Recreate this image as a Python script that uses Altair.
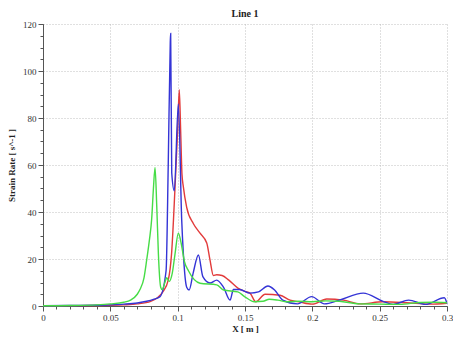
import altair as alt
import pandas as pd

red_x = [0, 0.02, 0.04, 0.05, 0.06, 0.07, 0.08, 0.085, 0.089, 0.093, 0.0955, 0.098, 0.1, 0.1012, 0.1022, 0.1032,
         0.1042, 0.1067, 0.1117, 0.1166, 0.1216, 0.124, 0.1265, 0.129, 0.133, 0.138, 0.145, 0.15, 0.1537, 0.158,
         0.1649, 0.176, 0.1834, 0.19, 0.2, 0.2107, 0.223, 0.2355, 0.2525, 0.27, 0.2871, 0.3]
red_y = [0.1, 0.15, 0.2, 0.3, 0.5, 0.9, 2, 3.5, 6, 11, 22.5, 50, 75, 92, 75, 56,
         50.8, 42, 35, 31, 26.8, 19.6, 13, 13.3, 13, 11, 7.5, 6.2, 5.5, 1.8,
         5, 4.6, 2.5, 1.8, 0.8, 3, 2.5, 0.9, 1.8, 1.4, 0.8, 1.2]

blue_x = [0, 0.02, 0.04, 0.05, 0.06, 0.07, 0.077, 0.082, 0.0869, 0.0914, 0.093, 0.0945, 0.0948, 0.0956, 0.0975,
          0.1005, 0.103, 0.1042, 0.1067, 0.1085, 0.1115, 0.1154, 0.1187, 0.124, 0.129, 0.134, 0.1389, 0.1414,
          0.146, 0.1537, 0.16, 0.167, 0.172, 0.178, 0.189, 0.1995, 0.209, 0.22, 0.2378, 0.2525, 0.26, 0.2715,
          0.284, 0.298, 0.3]
blue_y = [0.1, 0.2, 0.3, 0.5, 0.8, 1.3, 2, 2.8, 4, 15, 60, 112, 116, 56.6, 49,
          86, 36.6, 22.5, 8, 6.8, 14, 21.7, 12.5, 9.8, 11, 8, 2.5, 7,
          7, 5.5, 6, 8.5, 6.8, 2.5, 0.9, 4, 0.9, 2.5, 5.5, 2, 0.7, 2.5,
          0.7, 3.5, 1]

green_x = [0, 0.02, 0.04, 0.05, 0.06, 0.065, 0.07, 0.072, 0.075, 0.077, 0.079, 0.0807, 0.082, 0.0832, 0.0845,
           0.0857, 0.0874, 0.0885, 0.0905, 0.0918, 0.0937, 0.096, 0.098, 0.1005, 0.1025, 0.105, 0.108, 0.1166,
           0.129, 0.1342, 0.1447, 0.1497, 0.157, 0.1634, 0.168, 0.1745, 0.181, 0.19, 0.2, 0.21, 0.22, 0.235,
           0.25, 0.265, 0.28, 0.29, 0.3]
green_y = [0.1, 0.2, 0.5, 0.9, 1.6, 2.5, 5, 7, 12, 19.6, 28, 37, 50, 59, 42,
           22, 8, 7, 10, 12, 10.5, 14, 22, 31, 27, 19, 15, 9.7,
           9, 6.8, 6, 4, 1.8, 2, 2.9, 2.5, 1.8, 2, 1.8, 2.2, 2, 0.9,
           0.8, 0.7, 1.5, 1.6, 1.4]

rows = []
for name, xs, ys in [("red", red_x, red_y), ("blue", blue_x, blue_y), ("green", green_x, green_y)]:
    for i, (a, b) in enumerate(zip(xs, ys)):
        rows.append({"series": name, "x": a, "y": b, "order": i})
df = pd.DataFrame(rows)

x_major = [0, 0.05, 0.1, 0.15, 0.2, 0.25, 0.3]
y_major = [0, 20, 40, 60, 80, 100, 120]
x_minor = [round(i * 0.01, 2) for i in range(0, 31)]
y_minor = list(range(0, 121, 5))

font = "Liberation Serif"
common = dict(labelFont=font, labelFontSize=9, labelColor="#333",
              titleFont=font, titleFontSize=9, titleFontWeight="bold", titleColor="#222",
              domainColor="#555", tickColor="#555", labelPadding=2)

x_scale = alt.Scale(domain=[0, 0.3], nice=False, zero=False)
y_scale = alt.Scale(domain=[0, 120], nice=False)

lines = alt.Chart(df).mark_line(interpolate="monotone", strokeWidth=1.4).encode(
    x=alt.X("x:Q", scale=x_scale,
            axis=alt.Axis(values=x_major, title="X [ m ]", labelExpr="format(datum.value, '')",
                          tickSize=5, labelFlush=False, grid=True, gridColor="#b0b0b0",
                          gridDash=[1, 2], gridWidth=0.8, titlePadding=2, **common)),
    y=alt.Y("y:Q", scale=y_scale,
            axis=alt.Axis(values=y_major, title="Strain Rate [ s^-1 ]", tickSize=5, grid=True,
                          gridColor="#b0b0b0", gridDash=[1, 2], gridWidth=0.8, titlePadding=6, **common)),
    color=alt.Color("series:N", scale=alt.Scale(domain=["red", "blue", "green"],
                                                range=["#e23b3b", "#3434d6", "#46dc46"]), legend=None),
    detail="series:N",
    order="order:Q",
)

minor = alt.Chart(df).mark_point(opacity=0).encode(
    x=alt.X("x:Q", scale=x_scale,
            axis=alt.Axis(values=x_minor, labels=False, title=None, tickSize=3, grid=False,
                          domain=False, orient="bottom", tickColor="#555")),
    y=alt.Y("y:Q", scale=y_scale,
            axis=alt.Axis(values=y_minor, labels=False, title=None, tickSize=3, grid=False,
                          domain=False, orient="left", tickColor="#555")),
)

chart = alt.layer(lines, minor).resolve_axis(x="independent", y="independent").properties(
    width=404, height=282,
    title=alt.TitleParams("Line 1", font=font, fontSize=10, fontWeight="bold", color="#222", offset=1),
    autosize=alt.AutoSizeParams(type="none"),
    padding={"left": 43, "top": 24, "right": 6, "bottom": 31},
    background="white",
).configure_view(stroke=None)

chart.save("out.html", embed_options={"renderer": "svg", "actions": False})
